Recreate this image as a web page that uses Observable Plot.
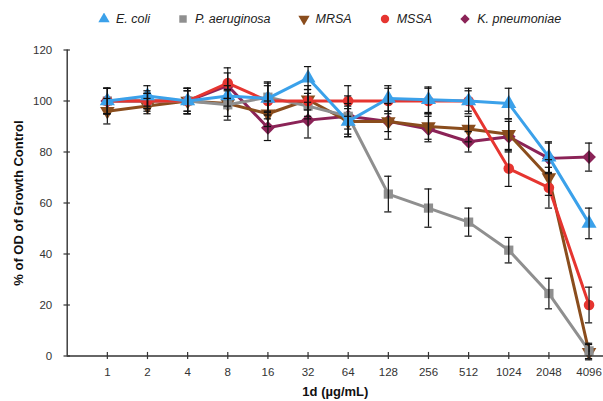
<!DOCTYPE html>
<html>
<head>
<meta charset="utf-8">
<script src="https://cdn.jsdelivr.net/npm/d3@7"></script>
<script src="https://cdn.jsdelivr.net/npm/@observablehq/plot@0.6"></script>
<style>
  html, body { margin: 0; padding: 0; background: #fff; }
  body { width: 603px; height: 401px; overflow: hidden; font-family: "Liberation Sans", Arial, sans-serif; }
  #legend { height: 38px; display: flex; align-items: center; padding-left: 98px; box-sizing: border-box; font-style: italic; font-size: 12.5px; color: #222; }
  #legend .item { display: flex; align-items: center; margin-right: 27px; }
  #legend svg { margin-right: 6px; }
</style>
</head>
<body>
<div id="legend"></div>
<div id="chart"></div>
<script>
const concentrations = ["1","2","4","8","16","32","64","128","256","512","1024","2048","4096"];
const yTicks = [0, 20, 40, 60, 80, 100, 120];

const seriesNames = ["E. coli", "P. aeruginosa", "MRSA", "MSSA", "K. pneumoniae"];
const seriesColors = ["#3ba1ea", "#8f8f8f", "#8a4d1d", "#e63530", "#8b2357"];

const ecoli   = [100, 102, 100, 102, 101, 109, 92, 101, 100.5, 100, 99, 78, 52];
const ecoliSD = [5, 4, 5, 4, 5, 4.5, 6, 5, 5, 4, 6, 6, 6];
const paer    = [100, 100, 100, 98.5, 101.5, 98, 94, 63.5, 58, 52.5, 41.5, 24.5, 2];
const paerSD  = [5, 4, 5, 6, 6, 5, 8, 7, 7.5, 5.5, 5, 6, 3];
const mrsa    = [96, 98, 100, 99, 95, 100.5, 92, 92, 90, 89, 87, 70, 1.5];
const mrsaSD  = [5, 3, 4, 5, 5, 4, 5, 4, 5, 5, 6, 7, 3];
const mssa    = [100, 100, 100, 107, 100, 100, 100, 100, 100, 100, 73.5, 66, 20];
const mssaSD  = [5, 3, 5, 6, 7, 6, 6, 5, 5, 5, 7, 8, 7];
const kpn     = [100, 100, 100, 106, 89.5, 92.5, 94, 92, 89, 84, 86, 77.5, 78];
const kpnSD   = [5, 3, 4, 5, 5, 7, 5, 7, 5, 4, 6, 6, 5.5];

const values = [ecoli, paer, mrsa, mssa, kpn];
const sds = [ecoliSD, paerSD, mrsaSD, mssaSD, kpnSD];

// custom down-pointing triangle (equal area to size)
const triangleDown = {
  draw(context, size) {
    const s = Math.sqrt(4 * size / Math.sqrt(3));
    const h = s * Math.sqrt(3) / 2;
    context.moveTo(0, h * 2 / 3);
    context.lineTo(s / 2, -h / 3);
    context.lineTo(-s / 2, -h / 3);
    context.closePath();
  }
};
const seriesSymbols = ["triangle", "square", triangleDown, "circle", "diamond2"];
const symbolSizes = [5.6, 5.2, 5.4, 5.3, 6.2];

// build table
const rows = [];
seriesNames.forEach((name, s) => {
  concentrations.forEach((c, i) => {
    rows.push({series: name, s, pos: i + 1, conc: c, v: values[s][i], sd: sds[s][i]});
  });
});

// drawing order (bottom -> top)
const order = [4, 2, 1, 3, 0];

const marks = [];
for (const s of order) {
  const d = rows.filter(r => r.s === s);
  marks.push(Plot.line(d, {x: "pos", y: "v", stroke: seriesColors[s], strokeWidth: 3, strokeLinejoin: "round"}));
  marks.push(Plot.dot(d, {x: "pos", y: "v", fill: seriesColors[s], stroke: "none", r: symbolSizes[s], symbol: () => seriesSymbols[s]}));
}
// error bars
marks.push(Plot.ruleX(rows, {x: "pos", y1: d => d.v - d.sd, y2: d => d.v + d.sd, stroke: "#111", strokeWidth: 1.2}));
marks.push(Plot.ruleY(rows, {y: d => d.v + d.sd, x1: d => d.pos - 0.09, x2: d => d.pos + 0.09, stroke: "#111", strokeWidth: 1.2}));
marks.push(Plot.ruleY(rows, {y: d => d.v - d.sd, x1: d => d.pos - 0.09, x2: d => d.pos + 0.09, stroke: "#111", strokeWidth: 1.2}));

// axes
const xPos = concentrations.map((c, i) => i + 1);
marks.push(Plot.ruleY([0], {stroke: "#333", strokeWidth: 1.4}));
marks.push(Plot.ruleX([0], {stroke: "#333", strokeWidth: 1.4}));
marks.push(Plot.ruleX(xPos, {x: d => d, y1: -1.4, y2: 1.4, stroke: "#333", strokeWidth: 1.2, clip: false}));
marks.push(Plot.ruleY(yTicks, {y: d => d, x1: -0.08, x2: 0.08, stroke: "#333", strokeWidth: 1.2}));
marks.push(Plot.axisX(xPos, {tickSize: 0, tickPadding: 12, fontSize: 11.5, fill: "#333",
  tickFormat: d => concentrations[d - 1], label: "1d (µg/mL)", labelAnchor: "center", labelOffset: 40, labelArrow: "none"}));
marks.push(Plot.axisY(yTicks, {tickSize: 0, tickPadding: 15, fontSize: 11.5, fill: "#333",
  label: "% of OD of Growth Control", labelAnchor: "center", labelOffset: 53, labelArrow: "none"}));

const chart = Plot.plot({
  width: 603,
  height: 363,
  marginLeft: 66.7,
  marginRight: 0,
  marginTop: 11.5,
  marginBottom: 45.5,
  style: {fontFamily: "'Liberation Sans', Arial, sans-serif", background: "white", overflow: "visible"},
  x: {type: "linear", domain: [0, 13.36]},
  y: {domain: [0, 120]},
  marks
});
// bold axis titles
chart.querySelectorAll('g[aria-label="x-axis label"] text, g[aria-label="y-axis label"] text').forEach(t => {
  t.style.fontWeight = "bold"; t.style.fontSize = "13px"; t.style.fill = "#111";
});
document.getElementById("chart").appendChild(chart);

// legend
const legend = document.getElementById("legend");
seriesNames.forEach((name, s) => {
  const item = document.createElement("div");
  item.className = "item";
  const svg = d3.create("svg").attr("width", 12).attr("height", 12);
  const sym = typeof seriesSymbols[s] === "string"
    ? {triangle: d3.symbolTriangle, square: d3.symbolSquare, circle: d3.symbolCircle, diamond2: d3.symbolDiamond2}[seriesSymbols[s]]
    : seriesSymbols[s];
  svg.append("path").attr("transform", "translate(6,6)")
    .attr("d", d3.symbol(sym, Math.PI * 4.2 * 4.2)())
    .attr("fill", seriesColors[s]);
  item.appendChild(svg.node());
  const span = document.createElement("span");
  span.textContent = name;
  item.appendChild(span);
  legend.appendChild(item);
});
</script>
</body>
</html>
